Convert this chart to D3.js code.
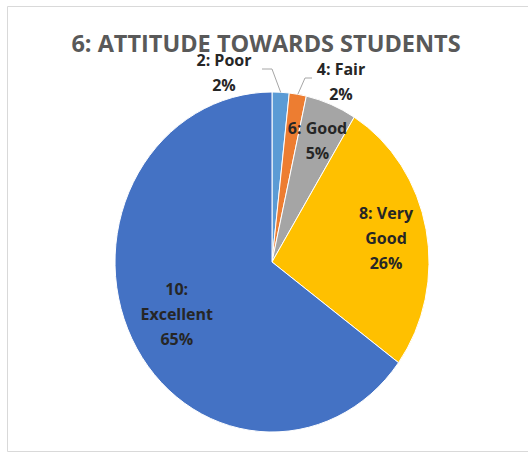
<!DOCTYPE html>
<html>
<head>
    <style>
        body {
            margin: 0;
            background: #fff;
            font-family: "Open Sans", Arial, sans-serif;
        }
    </style>
</head>
<body>
    <svg width="528" height="453"></svg>

    <script src="https://d3js.org/d3.v7.min.js"></script>
    <script>
        // data (counts out of 57)
        const categories = ["2: Poor", "4: Fair", "6: Good", "8: Very Good", "10: Excellent"];
        const counts = [1, 1, 3, 15, 37];
        const percentLabels = ["2%", "2%", "5%", "26%", "65%"];
        const colors = ["#5B9BD5", "#ED7D31", "#A5A5A5", "#FFC000", "#4472C4"];

        const svg = d3.select("svg"),
              width = +svg.attr("width"),
              height = +svg.attr("height");

        // chart frame (only left, top, bottom edges show)
        svg.append("path")
            .attr("d", `M${width},6.5 H7.5 V451.5 H${width}`)
            .attr("fill", "none")
            .attr("stroke", "#d9d9d9")
            .attr("stroke-width", 1);

        svg.append("text")
            .attr("x", 266)
            .attr("y", 52)
            .attr("text-anchor", "middle")
            .attr("font-size", 23.5)
            .attr("font-weight", "bold")
            .attr("fill", "#595959")
            .text("6: ATTITUDE TOWARDS STUDENTS");

        const cx = 272, cy = 262, r = 157, sy = 170 / 157;

        const pie = d3.pie().sort(null).value(d => d.value);
        const data = categories.map((c, i) => ({ name: c, value: counts[i], pct: percentLabels[i], color: colors[i] }));
        const arcs = pie(data);
        const arc = d3.arc().innerRadius(0).outerRadius(r);

        const g = svg.append("g")
            .attr("transform", `translate(${cx},${cy}) scale(1,${sy})`);

        g.selectAll("path")
            .data(arcs)
            .join("path")
            .attr("d", arc)
            .attr("fill", d => d.data.color)
            .attr("stroke", "#fff")
            .attr("stroke-width", 1)
            .attr("vector-effect", "non-scaling-stroke");

        // point on the (stretched) pie at angle a and radius rr
        const pt = (a, rr) => [cx + Math.sin(a) * rr, cy - Math.cos(a) * rr * sy];
        const mid = d => (d.startAngle + d.endAngle) / 2;

        // label placement: inside labels at a fraction of the radius, outside ones offset
        const labelLines = [["2: Poor", "2%"], ["4: Fair", "2%"], ["6: Good", "5%"], ["8: Very", "Good", "26%"], ["10:", "Excellent", "65%"]];
        const inside = { 2: 0.77, 3: 0.74, 4: 0.68 };
        const outside = { 0: { at: [224, 72], elbow: [272, 69], end: [262, 69] },
                          1: { at: [341, 81], elbow: [305, 78], end: [312, 78] } };

        const lineH = 25;
        arcs.forEach((d, i) => {
            let pos;
            if (inside[i] !== undefined) {
                pos = pt(mid(d), r * inside[i]);
            } else {
                const o = outside[i];
                pos = o.at;
                const p0 = pt(mid(d), r);
                svg.append("polyline")
                    .attr("points", [p0, o.elbow, o.end].map(p => p.join(",")).join(" "))
                    .attr("fill", "none")
                    .attr("stroke", "#a6a6a6")
                    .attr("stroke-width", 1);
            }
            const lines = labelLines[i];
            const t = svg.append("text")
                .attr("text-anchor", "middle")
                .attr("font-size", 16)
                .attr("font-weight", "bold")
                .attr("fill", "#262626");
            lines.forEach((s, k) => {
                t.append("tspan")
                    .attr("x", pos[0])
                    .attr("y", pos[1] + (k - (lines.length - 1) / 2) * lineH + 6)
                    .text(s);
            });
        });
    </script>
</body>
</html>
